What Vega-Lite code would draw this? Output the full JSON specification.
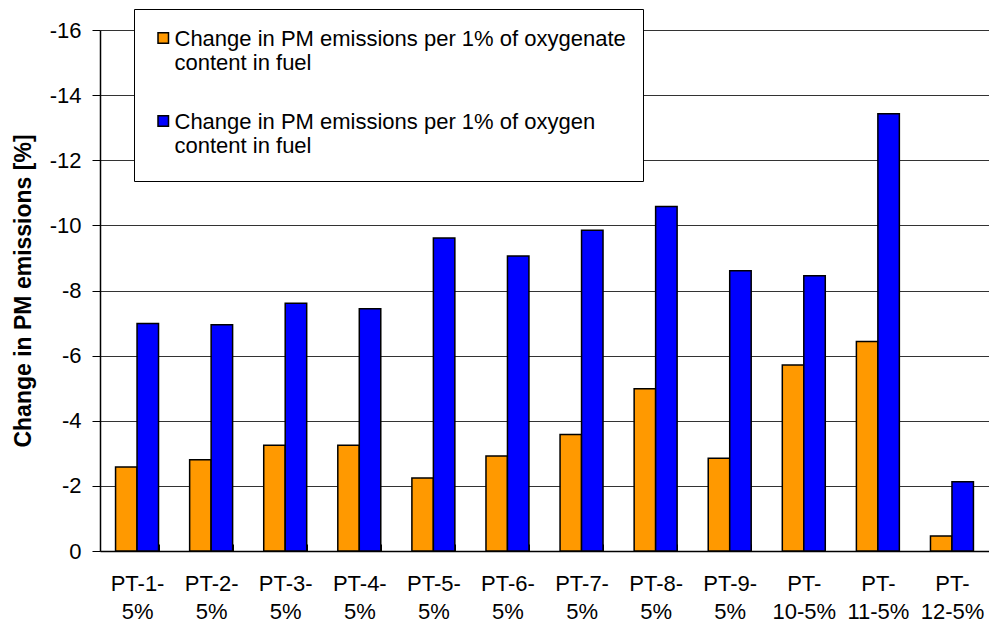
{
  "$schema": "https://vega.github.io/schema/vega-lite/v6.json",
  "width": 889,
  "height": 521,
  "autosize": {"type": "none"},
  "padding": {"left": 100, "top": 30, "right": 0, "bottom": 77},
  "background": "white",
  "config": {
    "font": "Liberation Sans",
    "view": {"stroke": null},
    "axis": {"labelFont": "Liberation Sans", "titleFont": "Liberation Sans", "labelColor": "black", "titleColor": "black"}
  },
  "data": {
    "values": [
      {"test": "PT-1-|5%", "series": "Change in PM emissions per 1% of oxygenate|content in fuel", "value": -2.58},
      {"test": "PT-1-|5%", "series": "Change in PM emissions per 1% of oxygen|content in fuel", "value": -6.99},
      {"test": "PT-2-|5%", "series": "Change in PM emissions per 1% of oxygenate|content in fuel", "value": -2.80},
      {"test": "PT-2-|5%", "series": "Change in PM emissions per 1% of oxygen|content in fuel", "value": -6.95},
      {"test": "PT-3-|5%", "series": "Change in PM emissions per 1% of oxygenate|content in fuel", "value": -3.25},
      {"test": "PT-3-|5%", "series": "Change in PM emissions per 1% of oxygen|content in fuel", "value": -7.61},
      {"test": "PT-4-|5%", "series": "Change in PM emissions per 1% of oxygenate|content in fuel", "value": -3.25},
      {"test": "PT-4-|5%", "series": "Change in PM emissions per 1% of oxygen|content in fuel", "value": -7.44},
      {"test": "PT-5-|5%", "series": "Change in PM emissions per 1% of oxygenate|content in fuel", "value": -2.24},
      {"test": "PT-5-|5%", "series": "Change in PM emissions per 1% of oxygen|content in fuel", "value": -9.61},
      {"test": "PT-6-|5%", "series": "Change in PM emissions per 1% of oxygenate|content in fuel", "value": -2.92},
      {"test": "PT-6-|5%", "series": "Change in PM emissions per 1% of oxygen|content in fuel", "value": -9.06},
      {"test": "PT-7-|5%", "series": "Change in PM emissions per 1% of oxygenate|content in fuel", "value": -3.58},
      {"test": "PT-7-|5%", "series": "Change in PM emissions per 1% of oxygen|content in fuel", "value": -9.85},
      {"test": "PT-8-|5%", "series": "Change in PM emissions per 1% of oxygenate|content in fuel", "value": -4.98},
      {"test": "PT-8-|5%", "series": "Change in PM emissions per 1% of oxygen|content in fuel", "value": -10.58},
      {"test": "PT-9-|5%", "series": "Change in PM emissions per 1% of oxygenate|content in fuel", "value": -2.85},
      {"test": "PT-9-|5%", "series": "Change in PM emissions per 1% of oxygen|content in fuel", "value": -8.61},
      {"test": "PT-|10-5%", "series": "Change in PM emissions per 1% of oxygenate|content in fuel", "value": -5.71},
      {"test": "PT-|10-5%", "series": "Change in PM emissions per 1% of oxygen|content in fuel", "value": -8.45},
      {"test": "PT-|11-5%", "series": "Change in PM emissions per 1% of oxygenate|content in fuel", "value": -6.43},
      {"test": "PT-|11-5%", "series": "Change in PM emissions per 1% of oxygen|content in fuel", "value": -13.43},
      {"test": "PT-|12-5%", "series": "Change in PM emissions per 1% of oxygenate|content in fuel", "value": -0.46},
      {"test": "PT-|12-5%", "series": "Change in PM emissions per 1% of oxygen|content in fuel", "value": -2.13}
    ]
  },
  "mark": {"type": "bar", "stroke": "black", "strokeWidth": 1.5},
  "encoding": {
    "x": {
      "field": "test",
      "type": "nominal",
      "sort": null,
      "scale": {"paddingInner": 0.42, "paddingOuter": 0.21},
      "axis": {
        "title": null,
        "labelAngle": 0,
        "labelExpr": "split(datum.label, '|')",
        "labelFontSize": 22,
        "labelLineHeight": 28,
        "labelPadding": 29,
        "tickBand": "extent",
        "tickSize": -7,
        "tickColor": "black",
        "domainColor": "black",
        "domainWidth": 1.5,
        "grid": false
      }
    },
    "xOffset": {"field": "series", "type": "nominal", "sort": null, "scale": {"paddingInner": 0, "paddingOuter": 0}},
    "y": {
      "field": "value",
      "type": "quantitative",
      "scale": {"domain": [-16, 0], "reverse": true, "nice": false},
      "axis": {
        "title": "Change in PM emissions [%]",
        "titleFontSize": 23,
        "titleFontWeight": "bold",
        "titlePadding": 14,
        "values": [-16, -14, -12, -10, -8, -6, -4, -2, 0],
        "labelExpr": "'' + datum.value",
        "labelFontSize": 22,
        "labelPadding": 11,
        "tickSize": 8,
        "tickColor": "black",
        "domainColor": "black",
        "domainWidth": 1.5,
        "grid": true,
        "gridColor": "#333",
        "gridWidth": 1
      }
    },
    "fill": {
      "field": "series",
      "type": "nominal",
      "sort": null,
      "scale": {"range": ["#FF9900", "#0000FF"]},
      "legend": {
        "title": null,
        "orient": "none",
        "legendX": 34,
        "legendY": -21,
        "direction": "vertical",
        "fillColor": "white",
        "strokeColor": "black",
        "padding": 17,
        "symbolType": "M-0.684,-0.697H-0.132V-0.145H-0.684ZM-0.4,1.68L-0.4,1.68",
        "symbolSize": 1444,
        "symbolStrokeColor": "black",
        "symbolStrokeWidth": 1.5,
        "labelExpr": "split(datum.label, '|')",
        "labelFontSize": 22,
        "labelLineHeight": 28,
        "labelLimit": 600,
        "labelBaseline": "alphabetic",
        "labelOffset": -16.5,
        "rowPadding": 28
      }
    }
  }
}
